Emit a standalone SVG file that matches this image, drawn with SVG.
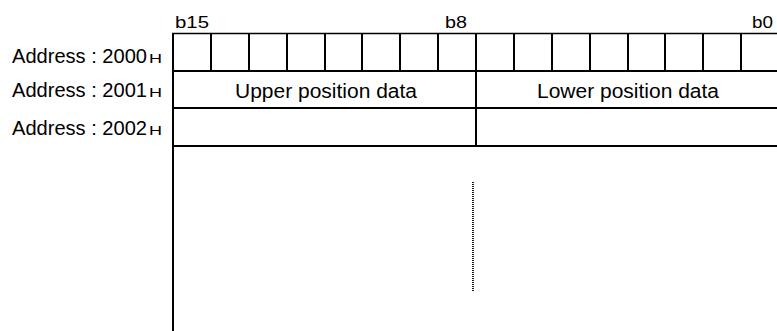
<svg xmlns="http://www.w3.org/2000/svg" width="777" height="331" viewBox="0 0 777 331">
<style>
text{font-family:"Liberation Sans",Arial,sans-serif;fill:#000}
.lbl{font-size:20px}
.sub{font-size:12px}
.bit{font-size:17px}
.ln{stroke:#000;stroke-width:2;fill:none}
.thin{stroke:#000;stroke-width:1.5;fill:none}
.dot{stroke:#000;stroke-width:1.8;stroke-dasharray:1 1;fill:none}
</style>
<rect width="777" height="331" fill="#fff"/>
<g id="bit-labels">
<text class="bit" x="175" y="28" textLength="34" lengthAdjust="spacingAndGlyphs">b15</text>
<text class="bit" x="445" y="28" textLength="22" lengthAdjust="spacingAndGlyphs">b8</text>
<text class="bit" x="752" y="28" textLength="21" lengthAdjust="spacingAndGlyphs">b0</text>
</g>
<g id="addr-2000">
<text class="lbl" x="12" y="63" textLength="135" lengthAdjust="spacingAndGlyphs">Address : 2000</text>
<text class="sub" x="149" y="63" textLength="13" lengthAdjust="spacingAndGlyphs">H</text>
</g>
<g id="addr-2001">
<text class="lbl" x="12" y="97" textLength="135" lengthAdjust="spacingAndGlyphs">Address : 2001</text>
<text class="sub" x="149" y="97" textLength="13" lengthAdjust="spacingAndGlyphs">H</text>
</g>
<g id="addr-2002">
<text class="lbl" x="12" y="135" textLength="135" lengthAdjust="spacingAndGlyphs">Address : 2002</text>
<text class="sub" x="149" y="135" textLength="13" lengthAdjust="spacingAndGlyphs">H</text>
</g>
<g id="register">
<line class="thin" x1="172" y1="33.5" x2="777" y2="33.5"/>
<line class="ln" x1="173" y1="71" x2="777" y2="71"/>
<line class="ln" x1="173" y1="108" x2="777" y2="108"/>
<line class="ln" x1="173" y1="146" x2="777" y2="146"/>
<line class="ln" x1="173" y1="33" x2="173" y2="331"/>
<g id="bit-cells">
<line class="ln" x1="211" y1="33" x2="211" y2="71"/>
<line class="ln" x1="249" y1="33" x2="249" y2="71"/>
<line class="ln" x1="287" y1="33" x2="287" y2="71"/>
<line class="ln" x1="325" y1="33" x2="325" y2="71"/>
<line class="ln" x1="362" y1="33" x2="362" y2="71"/>
<line class="ln" x1="400" y1="33" x2="400" y2="71"/>
<line class="ln" x1="438" y1="33" x2="438" y2="71"/>
<line class="ln" x1="476" y1="33" x2="476" y2="71"/>
<line class="ln" x1="514" y1="33" x2="514" y2="71"/>
<line class="ln" x1="552" y1="33" x2="552" y2="71"/>
<line class="ln" x1="590" y1="33" x2="590" y2="71"/>
<line class="ln" x1="628" y1="33" x2="628" y2="71"/>
<line class="ln" x1="665" y1="33" x2="665" y2="71"/>
<line class="ln" x1="703" y1="33" x2="703" y2="71"/>
<line class="ln" x1="741" y1="33" x2="741" y2="71"/>
</g>
<line class="ln" x1="476" y1="71" x2="476" y2="146"/>
<line class="dot" x1="473" y1="182" x2="473" y2="292"/>
</g>
<g id="upper-data">
<text class="lbl" x="326" y="98" text-anchor="middle" textLength="182" lengthAdjust="spacingAndGlyphs">Upper position data</text>
</g>
<g id="lower-data">
<text class="lbl" x="628" y="98" text-anchor="middle" textLength="182" lengthAdjust="spacingAndGlyphs">Lower position data</text>
</g>
</svg>
